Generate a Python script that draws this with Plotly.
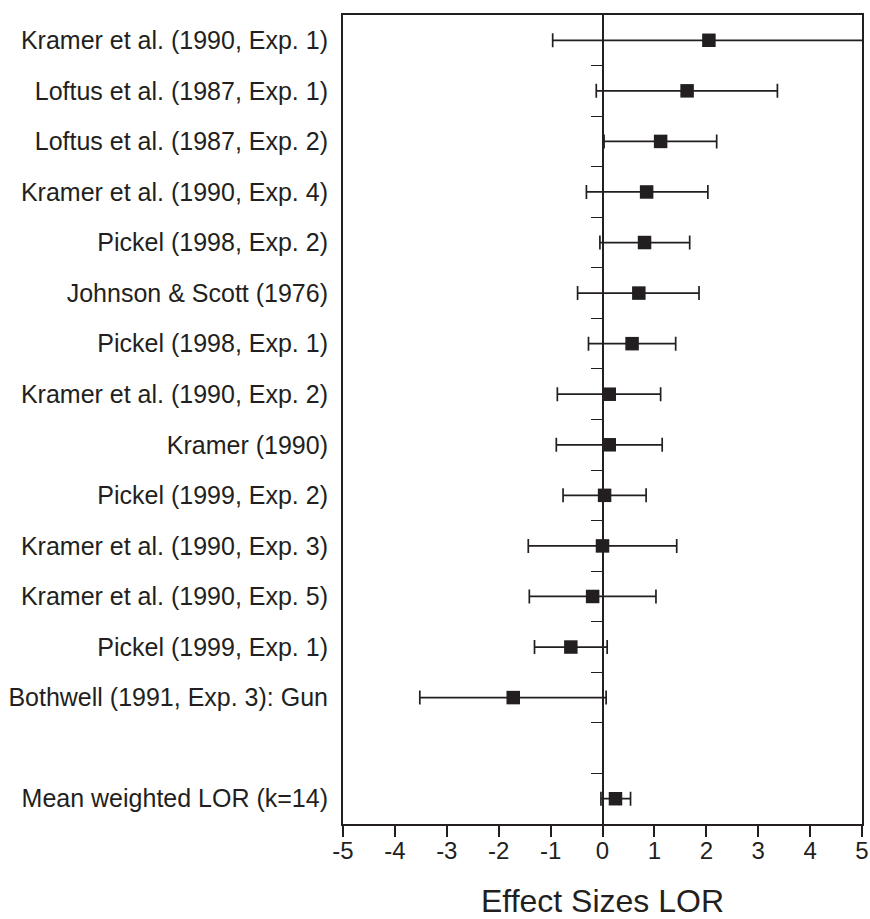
import plotly.graph_objects as go

# Studies (top to bottom) and their log odds ratios with confidence limits
studies = [
    "Kramer et al. (1990, Exp. 1)",
    "Loftus et al. (1987, Exp. 1)",
    "Loftus et al. (1987, Exp. 2)",
    "Kramer et al. (1990, Exp. 4)",
    "Pickel (1998, Exp. 2)",
    "Johnson & Scott (1976)",
    "Pickel (1998, Exp. 1)",
    "Kramer et al. (1990, Exp. 2)",
    "Kramer (1990)",
    "Pickel (1999, Exp. 2)",
    "Kramer et al. (1990, Exp. 3)",
    "Kramer et al. (1990, Exp. 5)",
    "Pickel (1999, Exp. 1)",
    "Bothwell (1991, Exp. 3): Gun",
    "Mean weighted LOR (k=14)",
]
lor = [2.05, 1.63, 1.12, 0.85, 0.81, 0.70, 0.57, 0.13, 0.13, 0.04, 0.00, -0.19, -0.61, -1.72, 0.25]
ci_low = [-0.96, -0.12, 0.03, -0.31, -0.05, -0.48, -0.27, -0.87, -0.89, -0.76, -1.43, -1.41, -1.31, -3.52, -0.03]
ci_high = [5.03, 3.37, 2.20, 2.03, 1.68, 1.86, 1.41, 1.12, 1.15, 0.84, 1.43, 1.03, 0.09, 0.07, 0.54]

# Row positions: one per study, an empty row, then the pooled estimate
rows = list(range(1, 15)) + [16]
row_ticks = [r + 0.5 for r in range(1, 16)]
x_ticks = list(range(-5, 6))

ink = "#231f20"
font_family = "Liberation Sans, Arial, Helvetica, sans-serif"

fig = go.Figure()

fig.add_trace(go.Scatter(
    x=lor,
    y=rows,
    mode="markers",
    marker=dict(symbol="square", size=13.5, color=ink, line=dict(width=0)),
    error_x=dict(
        type="data",
        symmetric=False,
        array=[h - m for h, m in zip(ci_high, lor)],
        arrayminus=[m - l for m, l in zip(lor, ci_low)],
        color=ink,
        thickness=1.7,
        width=7,
    ),
    cliponaxis=False,
    showlegend=False,
    hoverinfo="x+y",
))

# Carrier for the zero reference axis with its row separators
fig.add_trace(go.Scatter(
    x=[0], y=[8], yaxis="y2", mode="markers",
    marker=dict(opacity=0), showlegend=False, hoverinfo="skip",
))

fig.update_layout(
    width=870,
    height=919,
    margin=dict(l=343, r=8, t=15, b=95),
    paper_bgcolor="white",
    plot_bgcolor="white",
    font=dict(family=font_family, color=ink, size=25),
    xaxis=dict(
        range=[-5, 5],
        tickvals=x_ticks,
        ticktext=[str(v) for v in x_ticks],
        ticks="outside",
        ticklen=11,
        tickwidth=1.5,
        tickcolor=ink,
        tickfont=dict(size=24),
        ticklabelstandoff=-7,
        showline=True,
        linewidth=2,
        linecolor=ink,
        mirror=True,
        showgrid=False,
        zeroline=False,
        automargin=False,
        title=dict(text="Effect Sizes LOR", font=dict(size=32), standoff=52),
    ),
    yaxis=dict(
        range=[16.5, 0.5],
        autorange=False,
        tickvals=rows,
        ticktext=studies,
        ticks="",
        ticklabelstandoff=8,
        tickfont=dict(size=25),
        showline=True,
        linewidth=2,
        linecolor=ink,
        mirror=True,
        showgrid=False,
        zeroline=False,
        automargin=False,
    ),
    yaxis2=dict(
        overlaying="y",
        anchor="free",
        position=0.5,
        side="left",
        range=[16.5, 0.5],
        autorange=False,
        tickvals=row_ticks,
        ticks="outside",
        ticklen=11,
        tickwidth=1.2,
        tickcolor=ink,
        showticklabels=False,
        showline=True,
        linewidth=2,
        linecolor=ink,
        showgrid=False,
        zeroline=False,
        automargin=False,
    ),
)

fig.write_html("out.html")
